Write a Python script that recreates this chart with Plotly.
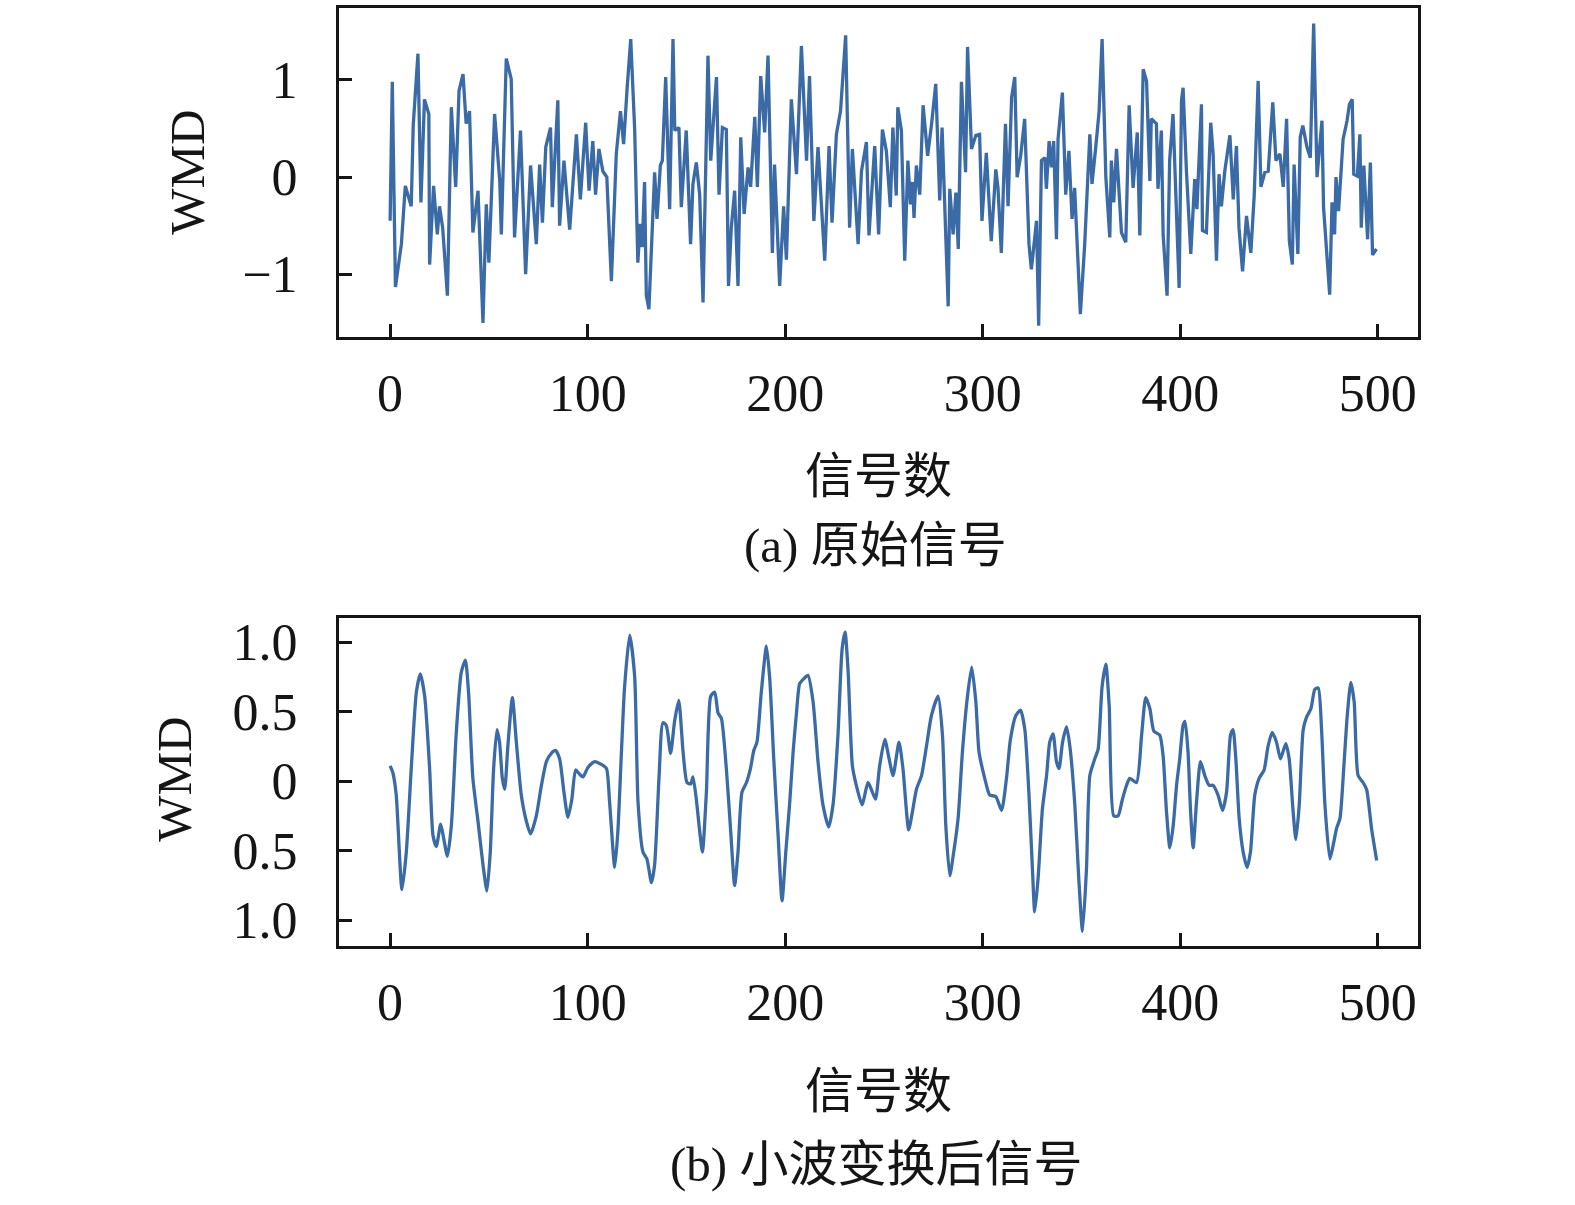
import plotly.graph_objects as go

# (a) original signal: turning points
raw_x = [0, 1.1, 2.7, 5.7, 7.7, 10.7, 11.7, 14.1, 15.6, 17.4, 19.6, 20.0, 22.0, 23.9, 25.0,
         26.6, 29.0, 31.0, 33.2, 34.9, 36.9, 38.5, 40.2, 41.9, 44.5, 47.0, 48.7, 50.0, 52.9,
         55.5, 56.3, 58.8, 61.3, 63.0, 66.0, 68.6, 71.1, 74.0, 75.7, 77.1, 78.8, 81.2, 82.1,
         84.9, 85.8, 88.0, 90.9, 94.3, 96.3, 99.0, 100.7, 102.6, 104.0, 105.7, 107.7, 109.7,
         112.0, 114.5, 116.6, 118.2, 120.0, 121.8, 123.8, 125.4, 126.6, 127.6, 128.8, 129.7,
         131.0, 133.1, 133.9, 135.1, 136.8, 137.8, 139.5, 141.5, 143.2, 144.1, 146.2, 147.4,
         149.9, 152.1, 153.3, 155.0, 156.7, 158.4, 160.9, 162.3, 165.2, 166.5, 168.2, 170.2,
         171.3, 172.7, 174.4, 176.1, 177.5, 179.2, 181.2, 182.5, 184.6, 185.9, 187.6, 189.6,
         191.3, 193.5, 194.6, 197.2, 199.2, 200.6, 203.1, 205.7, 208.2, 210.8, 212.3, 214.5,
         216.6, 220.0, 222.2, 223.7, 225.9, 228.0, 230.6, 232.6, 234.0, 236.9, 238.6, 241.1,
         242.4, 245.3, 247.3, 249.2, 251.2, 253.2, 254.5, 256.2, 257.0, 258.8, 260.5, 262.1,
         263.4, 264.4, 265.2, 266.4, 268.1, 269.8, 272.1, 274.1, 276.2, 278.2, 279.4, 282.5,
         283.3, 285.0, 286.4, 287.6, 289.2, 291.3, 292.3, 294.3, 296.5, 298.4, 299.6, 301.8,
         304.3, 306.6, 307.7, 309.4, 311.5, 312.8, 314.6, 316.2, 317.4, 319.2, 321.2, 323.4,
         324.6, 325.8, 327.2, 328.3, 329.7, 331.4, 332.2, 333.6, 334.8, 335.9, 337.3, 338.1,
         340.3, 342.0, 343.6, 345.2, 346.5, 349.4, 351.6, 354.2, 355.3, 357.2, 358.9, 360.4,
         362.3, 364.3, 365.1, 366.3, 367.7, 370.2, 372.4, 374.1, 376.1, 378.2, 379.5, 381.2,
         382.9, 384.6, 385.3, 387.9, 388.7, 390.4, 391.3, 393.3, 394.6, 396.3, 397.7, 399.4,
         400.6, 401.4, 403.1, 405.3, 407.3, 408.4, 410.7, 411.2, 413.2, 415.4, 416.6, 418.3,
         419.6, 420.8, 422.5, 425.1, 426.8, 428.4, 429.7, 431.5, 433.5, 435.7, 437.4, 439.4,
         440.8, 442.8, 444.5, 446.8, 448.4, 450.4, 452.1, 453.8, 455.2, 456.7, 457.6, 459.5,
         460.7, 462.0, 464.1, 465.8, 467.5, 469.2, 471.7, 472.5, 475.6, 476.8, 478.1, 478.8,
         480.1, 482.4, 484.4, 485.6, 487.0, 487.8, 489.6, 490.9, 491.6, 492.9, 494.8, 496.2,
         497.3, 499.3]
raw_y = [-0.45, 0.98, -1.13, -0.69, -0.09, -0.3, 0.53, 1.27, -0.26, 0.8, 0.65, -0.9, -0.09,
         -0.59, -0.3, -0.52, -1.22, 0.72, -0.1, 0.89, 1.06, 0.55, 0.68, -0.57, -0.14, -1.5,
         -0.28, -0.88, 0.65, -0.04, -0.59, 1.22, 1.01, -0.62, 0.48, -1.0, 0.12, -0.69, 0.13,
         -0.47, 0.31, 0.51, -0.31, 0.79, -0.5, 0.17, -0.54, 0.44, -0.23, 0.56, -0.14, 0.37,
         -0.18, 0.29, 0.06, 0.0, -1.07, 0.24, 0.68, 0.34, 0.92, 1.42, 0.49, -0.88, -0.48,
         -0.72, -0.05, -1.22, -1.36, -0.41, 0.05, -0.43, 0.12, 0.17, 1.03, -0.33, 1.42, 0.48,
         0.51, -0.31, 0.48, -0.69, -0.07, 0.15, -0.18, -1.29, 1.25, 0.17, 1.03, -0.18, 0.51,
         0.49, -1.12, -0.52, -0.14, -1.12, 0.41, -0.38, 0.1, -0.1, 0.62, -0.1, 1.04, 0.46,
         1.25, -0.78, 0.13, -1.12, -0.3, -0.85, 0.8, 0.03, 1.35, 0.17, 1.04, -0.45, 0.31,
         -0.86, 0.32, -0.47, 0.44, 0.68, 1.46, -0.52, 0.29, -0.69, 0.06, 0.36, -0.6, 0.32,
         -0.59, 0.49, 0.27, -0.31, 0.51, -0.19, 0.72, 0.48, -0.86, 0.17, -0.28, -0.05, -0.42,
         0.12, -0.18, 0.74, 0.22, 0.55, 0.96, -0.24, 0.51, -1.33, -0.12, -0.59, -0.16, -0.74,
         0.98, 0.05, 1.34, 0.29, 0.43, 0.44, -0.45, 0.25, -0.66, 0.08, -0.11, -0.78, 0.55,
         -0.3, 0.82, 1.03, 0.0, 0.22, 0.6, -0.69, -0.95, -0.72, -0.45, -1.53, 0.17, 0.2,
         -0.12, 0.37, 0.1, 0.37, -0.64, 0.39, 0.87, -0.18, 0.27, -0.43, -0.11, -1.41, -0.69,
         0.44, -0.07, 0.31, 0.68, 1.42, 0.0, -0.62, 0.17, -0.26, 0.29, -0.57, -0.67, 0.74,
         -0.11, 0.46, -0.6, 1.11, 0.99, -0.04, 0.6, 0.55, -0.12, 0.48, -0.59, -1.22, 0.17,
         0.65, -0.18, -1.14, 0.79, 0.92, 0.06, -0.79, -0.02, -0.33, 0.75, -0.55, -0.57, 0.56,
         0.24, -0.86, 0.03, -0.3, 0.06, 0.43, -0.23, 0.32, -0.52, -0.97, -0.4, -0.78, -0.19,
         0.99, -0.1, 0.05, 0.06, 0.77, 0.17, 0.24, -0.1, 0.6, -0.66, -0.9, 0.13, -0.79, 0.41,
         0.53, 0.31, 0.2, 1.58, 0.0, 0.58, -0.31, -1.21, -0.26, -0.59, 0.0, -0.35, 0.39,
         0.58, 0.75, 0.8, 0.03, 0.01, 0.44, -0.52, 0.12, -0.64, 0.15, -0.8, -0.74]

# (b) signal after wavelet transform
wav_x = [0, 1.4, 3.1, 6.0, 8.2, 10.7, 13.3, 15.3, 17.5, 20.0, 21.7, 23.4, 25.6, 27.1, 29.0,
         31.0, 33.5, 36.0, 38.1, 39.7, 41.9, 44.5, 47.0, 49.0, 50.7, 52.4, 54.1, 55.4, 56.8,
         58.0, 59.6, 61.9, 63.9, 66.4, 69.0, 71.1, 74.0, 76.6, 79.1, 81.6, 83.8, 85.8, 88.0,
         90.0, 92.0, 93.9, 95.9, 97.6, 100.2, 103.5, 106.9, 109.5, 111.1, 113.7, 115.3, 117.1,
         118.7, 121.3, 123.8, 125.5, 128.0, 130.0, 132.3, 133.9, 136.1, 138.1, 139.8, 142.0,
         144.0, 146.1, 148.3, 150.3, 152.2, 153.3, 155.0, 156.7, 158.1, 160.1, 162.3, 164.3,
         166.0, 167.7, 170.2, 172.4, 174.4, 176.1, 178.1, 180.4, 182.4, 184.1, 185.7, 187.9,
         190.5, 192.2, 194.2, 196.4, 198.4, 200.3, 202.3, 204.0, 205.7, 207.3, 209.0, 211.5,
         214.1, 216.6, 219.1, 222.0, 224.2, 226.7, 228.8, 230.3, 231.8, 234.0, 236.0, 238.9,
         241.9, 243.6, 245.7, 247.8, 250.4, 252.6, 254.6, 257.6, 259.6, 262.5, 264.4, 266.4,
         269.0, 271.5, 274.0, 277.4, 279.6, 281.3, 283.3, 285.3, 287.5, 289.7, 292.1, 294.4,
         296.5, 298.1, 301.0, 303.5, 306.6, 309.5, 312.0, 314.0, 316.7, 319.1, 321.3, 323.4,
         325.2, 326.3, 328.0, 330.2, 332.3, 333.9, 335.6, 337.3, 338.6, 340.4, 342.4, 344.1,
         346.6, 348.6, 350.5, 352.5, 354.2, 356.7, 358.4, 360.4, 362.3, 364.0, 366.3, 368.5,
         370.7, 372.8, 374.4, 377.8, 380.4, 382.5, 384.6, 386.6, 389.6, 391.3, 393.0, 394.7,
         396.4, 398.1, 399.7, 401.4, 402.4, 403.9, 405.2, 406.5, 408.2, 410.2, 412.4, 414.6,
         416.6, 419.1, 421.4, 423.4, 425.4, 426.7, 428.1, 429.8, 431.8, 433.8, 435.5, 437.7,
         439.9, 442.4, 444.4, 446.5, 448.7, 450.7, 453.4, 455.1, 457.1, 458.5, 460.2, 462.2,
         463.9, 466.1, 468.1, 469.8, 471.5, 473.2, 475.7, 477.4, 479.1, 480.8, 482.8, 484.5,
         486.3, 488.0, 490.0, 492.5, 494.3, 496.8, 499.4]
wav_y = [0.11, 0.06, -0.1, -0.78, -0.51, 0.09, 0.64, 0.77, 0.61, 0.09, -0.39, -0.47, -0.31,
         -0.41, -0.54, -0.32, 0.35, 0.78, 0.87, 0.64, 0.02, -0.29, -0.6, -0.79, -0.51, 0.09,
         0.37, 0.28, 0.02, -0.06, 0.25, 0.6, 0.28, -0.1, -0.29, -0.38, -0.25, -0.03, 0.14,
         0.2, 0.22, 0.16, -0.08, -0.26, -0.13, 0.08, 0.05, 0.03, 0.1, 0.14, 0.12, 0.09, -0.15,
         -0.62, -0.36, 0.21, 0.68, 1.05, 0.75, -0.15, -0.51, -0.56, -0.73, -0.6, 0.02, 0.42,
         0.4, 0.2, 0.43, 0.58, 0.21, -0.01, -0.02, 0.03, -0.13, -0.36, -0.51, -0.08, 0.61,
         0.64, 0.49, 0.45, 0.09, -0.36, -0.75, -0.51, -0.08, -0.01, 0.09, 0.22, 0.28, 0.64,
         0.97, 0.73, 0.16, -0.39, -0.86, -0.51, -0.15, 0.21, 0.49, 0.7, 0.73, 0.76, 0.57,
         0.14, -0.17, -0.33, -0.17, 0.33, 0.95, 1.07, 0.8, 0.11, -0.03, -0.17, -0.01, -0.06,
         -0.13, 0.11, 0.3, 0.16, 0.04, 0.28, 0.09, -0.35, -0.22, -0.06, 0.04, 0.25, 0.47,
         0.61, 0.33, -0.32, -0.68, -0.51, -0.27, 0.21, 0.59, 0.82, 0.57, 0.21, 0.02, -0.1,
         -0.11, -0.21, 0.02, 0.3, 0.47, 0.51, 0.37, -0.1, -0.65, -0.94, -0.7, -0.2, 0.04,
         0.28, 0.34, 0.14, 0.09, 0.28, 0.39, 0.25, -0.17, -0.7, -1.08, -0.63, 0.04, 0.16,
         0.23, 0.68, 0.84, 0.54, -0.25, -0.25, -0.13, -0.03, 0.02, -0.01, 0.33, 0.6, 0.52,
         0.36, 0.33, 0.18, -0.22, -0.48, -0.32, -0.03, 0.16, 0.4, 0.43, 0.21, -0.22, -0.48,
         -0.15, 0.14, 0.04, -0.03, -0.03, -0.1, -0.21, -0.08, 0.33, 0.37, 0.16, -0.27, -0.51,
         -0.62, -0.51, -0.1, 0.02, 0.08, 0.25, 0.35, 0.28, 0.16, 0.27, 0.16, -0.22, -0.42,
         -0.17, 0.37, 0.46, 0.52, 0.66, 0.67, 0.37, -0.17, -0.56, -0.46, -0.34, -0.27, 0.11,
         0.47, 0.71, 0.57, 0.04, -0.01, -0.06, -0.34, -0.57]

x_ticks = [0, 100, 200, 300, 400, 500]
top_ticks = [-1, 0, 1]
top_ticktext = ['\u22121', '0', '1']
bot_ticks = [-1.0, -0.5, 0, 0.5, 1.0]
bot_ticktext = ['1.0', '0.5', '0', '0.5', '1.0']

LINE = '#3b6ba6'
INK = '#151515'
SERIF = 'Liberation Serif, Times New Roman, serif'
CJK = 'Liberation Serif, Noto Sans CJK SC, serif'

fig = go.Figure()
fig.add_trace(go.Scatter(x=raw_x, y=raw_y, mode='lines',
                         line=dict(color=LINE, width=3.3), xaxis='x', yaxis='y'))
fig.add_trace(go.Scatter(x=wav_x, y=wav_y, mode='lines',
                         line=dict(color=LINE, width=3.3, shape='spline', smoothing=0.6),
                         xaxis='x2', yaxis='y2'))

axis_style = dict(
    showline=True, mirror=True, linewidth=3, linecolor=INK,
    ticks='inside', ticklen=13, tickwidth=3, tickcolor=INK,
    showgrid=False, zeroline=False,
    tickfont=dict(family=SERIF, size=52, color=INK),
)

fig.update_layout(
    width=1575, height=1205,
    margin=dict(l=0, r=0, t=0, b=0),
    paper_bgcolor='white', plot_bgcolor='white',
    showlegend=False,
    xaxis=dict(axis_style, domain=[0.2152, 0.9003], range=[-25.9, 520.3],
               tickvals=x_ticks, anchor='y', ticklabelstandoff=9),
    yaxis=dict(axis_style, domain=[0.722, 0.9967], range=[-1.643, 1.741],
               tickvals=top_ticks, ticktext=top_ticktext, anchor='x',
               ticklabelstandoff=28),
    xaxis2=dict(axis_style, domain=[0.2152, 0.9003], range=[-25.9, 520.3],
                tickvals=x_ticks, anchor='y2', ticklabelstandoff=9),
    yaxis2=dict(axis_style, domain=[0.2133, 0.4871], range=[-1.183, 1.173],
                tickvals=bot_ticks, ticktext=bot_ticktext, anchor='x2',
                ticklabelstandoff=28),
)

labels = [
    ('WMD', 0.1194, 0.859, -90),
    ('WMD', 0.1111, 0.3527, -90),
    ('信号数', 0.5575, 0.605, 0),
    ('(a) 原始信号', 0.556, 0.5477, 0),
    ('信号数', 0.5575, 0.0913, 0),
    ('(b) 小波变换后信号', 0.556, 0.0307, 0),
]
for text, ax, ay, rot in labels:
    fig.add_annotation(text=text, x=ax, y=ay, xref='paper', yref='paper',
                       xanchor='center', yanchor='middle', showarrow=False,
                       textangle=rot, font=dict(family=CJK, size=49, color=INK))

# drop the page's default body margin so the figure sits at the window origin
fig.write_html('out.html', config={'displayModeBar': False},
               post_script="document.body.style.margin='0';")
